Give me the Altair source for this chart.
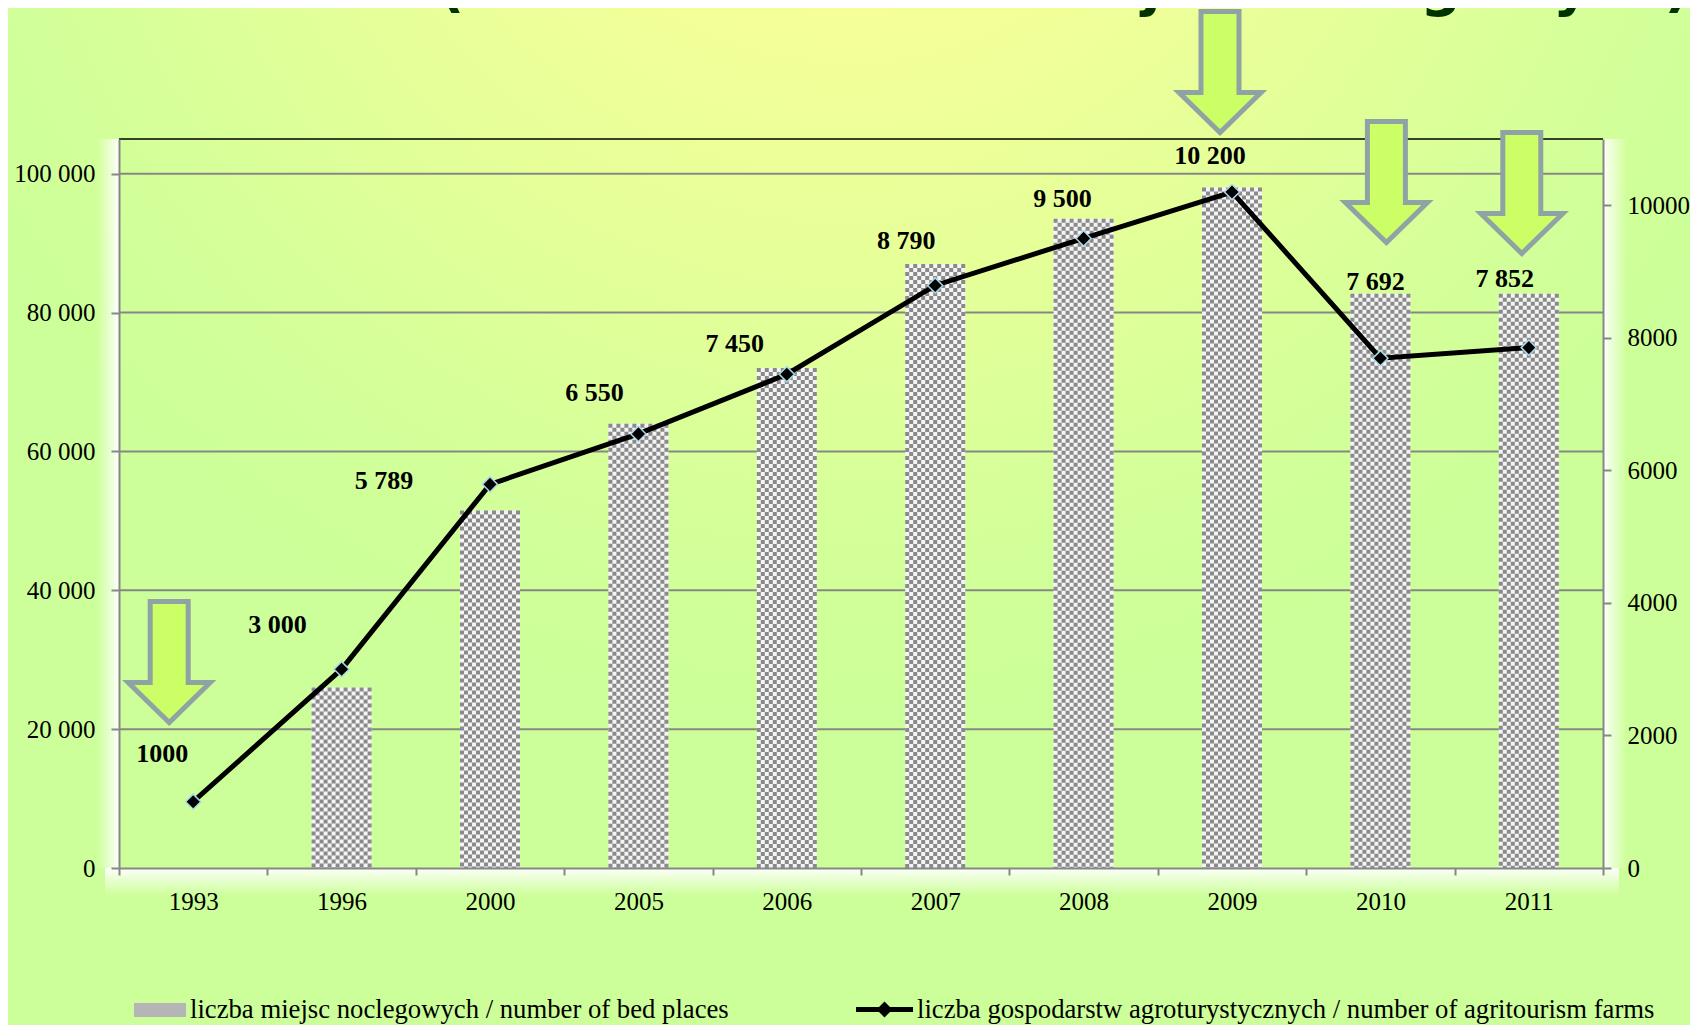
import altair as alt
import pandas as pd

# ---------------- data ----------------
years = ["1993", "1996", "2000", "2005", "2006", "2007", "2008", "2009", "2010", "2011"]
bed_places = [None, 26000, 51500, 64000, 72000, 87000, 93500, 98000, 82700, 82700]
farms = [1000, 3000, 5789, 6550, 7450, 8790, 9500, 10200, 7692, 7852]
farm_labels = ["1000", "3 000", "5 789", "6 550", "7 450", "8 790", "9 500", "10 200", "7 692", "7 852"]
left_ticks = [0, 20000, 40000, 60000, 80000, 100000]
right_ticks = [0, 2000, 4000, 6000, 8000, 10000]
arrow_years = ["1993", "2009", "2010", "2011"]

title_text = "1993-2011 (liczba obiektów i miejsc noclegowych)"
bed_name = "liczba miejsc noclegowych / number of bed places"
farm_name = "liczba gospodarstw agroturystycznych / number of agritourism farms"

# ---------------- layout / style ----------------
W, H = 1484, 729
PAD = {"left": 111, "top": 131, "right": 87, "bottom": 157}
FONT = "Liberation Serif"
GRAY = "#878787"

# label placement (dx, dy in px relative to the point), as in the original
LABEL_OFFSETS = {
    "1993": (-31, -48), "1996": (-64, -44), "2000": (-106, -3), "2005": (-44, -41),
    "2006": (-52, -30), "2007": (-29, -44), "2008": (-21, -39), "2009": (-22, -36),
    "2010": (-5, -76), "2011": (-24, -69),
}
# decorative arrows: (x offset from band centre, y centre in px)
ARROW_POS = {"1993": (-24, 523), "2009": (-12, -67), "2010": (6, 43), "2011": (-7, 54)}
ARROW = "M -0.314 -1 L 0.314 -1 L 0.314 0.34 L 0.678 0.34 L 0 1 L -0.678 0.34 L -0.314 0.34 Z"
RECT_SYMBOL = "M -1 -0.27 L 1 -0.27 L 1 0.27 L -1 0.27 Z"
LINE_SYMBOL = ("M -1 -0.088 L -0.192 -0.088 L 0 -0.28 L 0.192 -0.088 L 1 -0.088 L 1 0.088 "
               "L 0.192 0.088 L 0 0.28 L -0.192 0.088 L -1 0.088 Z")

df = pd.DataFrame({"year": years, "beds": bed_places, "farms": farms, "label": farm_labels})
one = pd.DataFrame({"k": [0]})
grid_df = pd.DataFrame({"tick": left_ticks[1:]})

x_enc = alt.X("year:N", sort=years, scale=alt.Scale(paddingInner=0, paddingOuter=0),
              axis=alt.Axis(title=None, labelAngle=0, tickBand="extent", tickSize=7,
                            labelPadding=14, zindex=1))
left_scale = alt.Scale(domain=[0, 105000], nice=False)
right_scale = alt.Scale(domain=[0, 11000], nice=False)
left_axis = alt.Axis(title=None, values=left_ticks, orient="left", tickSize=8, labelPadding=16, zindex=1,
                     labelExpr="replace(format(datum.value, ','), regexp(',', 'g'), ' ')")
right_axis = alt.Axis(title=None, values=right_ticks, orient="right", tickSize=8, labelPadding=16,
                      format="d", zindex=1)

# ---------------- background ----------------
bg = alt.Chart(one).mark_rect(
    fill=alt.RadialGradient(
        gradient="radial",
        stops=[alt.GradientStop(color="#FFFF99", offset=0),
               alt.GradientStop(color="#FCFF99", offset=0.2),
               alt.GradientStop(color="#E6FF99", offset=0.55),
               alt.GradientStop(color="#D2FF99", offset=0.85),
               alt.GradientStop(color="#CCFF99", offset=1)],
        x1=0.5, y1=0.02, x2=0.5, y2=0.02, r1=0, r2=0.6)
).encode(x=alt.value(-PAD["left"]), x2=alt.value(W + PAD["right"]),
         y=alt.value(-PAD["top"]), y2=alt.value(H + PAD["bottom"]))

WHITE_STOPS_IN = [alt.GradientStop(color="rgba(255,255,255,0)", offset=0),
                  alt.GradientStop(color="rgba(255,255,255,0.95)", offset=1)]
WHITE_STOPS_OUT = [alt.GradientStop(color="rgba(255,255,255,0.95)", offset=0),
                   alt.GradientStop(color="rgba(255,255,255,0)", offset=1)]
glow_l = alt.Chart(one).mark_rect(
    fill=alt.LinearGradient(gradient="linear", stops=WHITE_STOPS_IN, x1=0, y1=0, x2=1, y2=0)
).encode(x=alt.value(-22), x2=alt.value(0), y=alt.value(0), y2=alt.value(H))
glow_r = alt.Chart(one).mark_rect(
    fill=alt.LinearGradient(gradient="linear", stops=WHITE_STOPS_OUT, x1=0, y1=0, x2=1, y2=0)
).encode(x=alt.value(W), x2=alt.value(W + 24), y=alt.value(0), y2=alt.value(H))
glow_b = alt.Chart(one).mark_rect(
    fill=alt.LinearGradient(gradient="linear", stops=WHITE_STOPS_OUT, x1=0, y1=0, x2=0, y2=1)
).encode(x=alt.value(-14), x2=alt.value(W + 16), y=alt.value(H), y2=alt.value(H + 28))

# ---------------- left axis group: grid + bars ----------------
valid = "isValid(datum.beds)"
grid = alt.Chart(grid_df).mark_rule(color=GRAY, strokeWidth=2).encode(
    y=alt.Y("tick:Q", scale=left_scale, axis=left_axis))
bars = alt.Chart(df).transform_filter(valid).mark_bar(width=60, color="#F4F4F4").encode(
    x=x_enc, y=alt.Y("beds:Q", scale=left_scale, axis=left_axis))
cells = []
for k in range(15):
    cells.append(
        alt.Chart(df).transform_filter(valid).mark_rule(
            xOffset=-28 + 4 * k, strokeWidth=4, strokeCap="butt",
            strokeDash=[4, 4] if k % 2 == 0 else [0, 4, 4, 0], color="#8A8A8A"
        ).encode(x=x_enc, y=alt.Y("beds:Q", scale=left_scale, axis=left_axis), y2=alt.datum(0))
    )
left = alt.layer(grid, bars, *cells)

top_border = alt.Chart(one).mark_rule(color="black", strokeWidth=1.5).encode(
    x=alt.value(0), x2=alt.value(W), y=alt.value(0))

# ---------------- right axis group: line + labels ----------------
y_right = alt.Y("farms:Q", scale=right_scale, axis=right_axis)
line = alt.Chart(df).mark_line(color="black", strokeWidth=5).encode(x=x_enc, y=y_right)
pts = alt.Chart(df).mark_point(shape="diamond", filled=True, color="black", stroke="#A8D8E8",
                               strokeWidth=1.5, size=230, opacity=1).encode(x=x_enc, y=y_right)
labels = []
for yr, (dx, dy) in LABEL_OFFSETS.items():
    labels.append(
        alt.Chart(df).transform_filter(alt.datum.year == yr).mark_text(
            dx=dx, dy=dy, font=FONT, fontSize=26, fontWeight="bold", color="black",
            baseline="middle", align="center"
        ).encode(x=x_enc, y=y_right, text="label:N")
    )
right = alt.layer(line, pts, *labels)

# ---------------- decorative arrows ----------------
arrows = []
for yr in arrow_years:
    dx, py = ARROW_POS[yr]
    arrows.append(
        alt.Chart(df).transform_filter(alt.datum.year == yr).mark_point(
            shape=ARROW, size=14641, filled=True, fill="#CCFF66", stroke="#8FA3A5",
            strokeWidth=5, opacity=1, fillOpacity=1, strokeOpacity=1, xOffset=dx
        ).encode(x=x_enc, y=alt.value(py))
    )

# ---------------- (cropped) title ----------------
title = alt.Chart(one).mark_text(
    text=title_text, font="DejaVu Sans", fontSize=57, fontWeight="bold", color="#003300",
    align="center", baseline="alphabetic"
).encode(x=alt.value(765), y=alt.value(-134))

# ---------------- legends ----------------
leg_common = dict(orient="none", padding=0, title=None, labelFont=FONT, labelFontSize=26.7,
                  labelColor="black", labelLimit=0, labelOffset=4, symbolStrokeWidth=0)
legA = alt.Chart(pd.DataFrame({"s1": [bed_name]})).transform_filter("false").mark_point(
    filled=True, opacity=1).encode(
    fill=alt.Fill("s1:N", scale=alt.Scale(domain=[bed_name], range=["#B5B5B5"]),
                  legend=alt.Legend(legendX=15, legendY=845, symbolType=RECT_SYMBOL,
                                    symbolSize=2704, **leg_common)))
legB = alt.Chart(pd.DataFrame({"s2": [farm_name]})).transform_filter("false").mark_point(
    filled=True, color="black", opacity=1).encode(
    shape=alt.Shape("s2:N", scale=alt.Scale(domain=[farm_name], range=[LINE_SYMBOL]),
                    legend=alt.Legend(legendX=737, legendY=842, symbolSize=3249,
                                      symbolFillColor="black", **leg_common)))

chart = alt.layer(
    bg, glow_l, glow_r, glow_b, left, top_border, right, *arrows, title, legA, legB
).resolve_scale(y="independent").properties(
    width=W, height=H, autosize=alt.AutoSizeParams(type="none"), padding=PAD
).configure_view(stroke=None).configure_axis(
    labelFont=FONT, labelFontSize=25, labelColor="black", domainColor=GRAY, domainWidth=2,
    tickColor=GRAY, tickWidth=2, grid=False
)

chart.save("out.html", embed_options={"renderer": "svg", "actions": False})
